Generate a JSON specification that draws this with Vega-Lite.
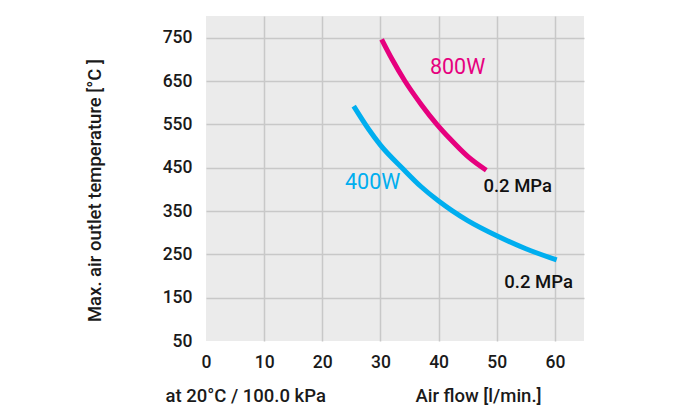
{
  "$schema": "https://vega.github.io/schema/vega-lite/v6.json",
  "width": 378,
  "height": 325,
  "autosize": {"type": "none"},
  "padding": {"left": 206, "top": 16, "right": 96, "bottom": 67},
  "background": "white",
  "config": {
    "view": {"fill": "#ebebeb", "stroke": null},
    "font": "Roboto",
    "axis": {
      "labelFont": "Roboto", "titleFont": "Roboto",
      "labelColor": "#1a1a1a", "titleColor": "#1a1a1a",
      "labelFontSize": 17.5, "labelFontWeight": 500,
      "titleFontSize": 18.5, "titleFontWeight": 500,
      "ticks": false, "tickSize": 0, "domain": false,
      "gridColor": "#c8c8c8", "gridWidth": 1.5
    }
  },
  "layer": [
    {
      "data": {"values": [
        {"flow": 30.2, "temp": 746, "series": "800W"},
        {"flow": 32, "temp": 700, "series": "800W"},
        {"flow": 34.2, "temp": 650, "series": "800W"},
        {"flow": 37, "temp": 596, "series": "800W"},
        {"flow": 39.7, "temp": 550, "series": "800W"},
        {"flow": 42, "temp": 516, "series": "800W"},
        {"flow": 45, "temp": 476, "series": "800W"},
        {"flow": 48.2, "temp": 444, "series": "800W"},
        {"flow": 25.4, "temp": 592, "series": "400W"},
        {"flow": 28, "temp": 538, "series": "400W"},
        {"flow": 30, "temp": 502, "series": "400W"},
        {"flow": 33.9, "temp": 447, "series": "400W"},
        {"flow": 37, "temp": 406, "series": "400W"},
        {"flow": 40, "temp": 373, "series": "400W"},
        {"flow": 42.3, "temp": 351, "series": "400W"},
        {"flow": 45, "temp": 328, "series": "400W"},
        {"flow": 50, "temp": 293, "series": "400W"},
        {"flow": 55, "temp": 263, "series": "400W"},
        {"flow": 60.3, "temp": 237, "series": "400W"}
      ]},
      "mark": {"type": "line", "interpolate": "monotone", "strokeWidth": 5, "strokeCap": "butt"},
      "encoding": {
        "x": {
          "field": "flow", "type": "quantitative",
          "scale": {"domain": [0, 65], "nice": false, "zero": false},
          "axis": {
            "orient": "bottom",
            "values": [0, 10, 20, 30, 40, 50, 60],
            "labelFlush": false, "labelPadding": 12,
            "title": "Air flow [l/min.]",
            "titleX": 272, "titleY": 60, "titleAlign": "center", "titleBaseline": "alphabetic",
            "gridOpacity": {"condition": {"test": "datum.value == 0", "value": 0}, "value": 1}
          }
        },
        "y": {
          "field": "temp", "type": "quantitative",
          "scale": {"domain": [50, 800], "nice": false, "zero": false},
          "axis": {
            "values": [50, 150, 250, 350, 450, 550, 650, 750],
            "labelPadding": 14,
            "title": "Max. air outlet temperature [°C ]",
            "titleAngle": -90, "titleX": -106, "titleY": 174,
            "titleAlign": "center", "titleBaseline": "alphabetic",
            "gridOpacity": {"condition": {"test": "datum.value == 50", "value": 0}, "value": 1}
          }
        },
        "color": {
          "field": "series", "type": "nominal",
          "scale": {"domain": ["800W", "400W", "note"], "range": ["#e6007e", "#00aeef", "#111111"]},
          "legend": null
        }
      }
    },
    {
      "data": {"values": [
        {"flow": 38.5, "temp": 680, "label": "800W", "series": "800W"},
        {"flow": 23.9, "temp": 415, "label": "400W", "series": "400W"}
      ]},
      "mark": {"type": "text", "align": "left", "baseline": "middle", "fontSize": 21.5, "font": "Roboto"},
      "encoding": {
        "x": {
          "field": "flow", "type": "quantitative",
          "axis": {
            "orient": "bottom", "labels": false, "grid": false, "ticks": false, "domain": false,
            "title": "at 20°C / 100.0 kPa",
            "titleX": -41, "titleY": 60, "titleAlign": "left", "titleBaseline": "alphabetic"
          }
        },
        "y": {"field": "temp", "type": "quantitative"},
        "text": {"field": "label"},
        "color": {"field": "series", "type": "nominal", "legend": null}
      }
    },
    {
      "data": {"values": [
        {"flow": 47.7, "temp": 408, "label": "0.2 MPa", "series": "note"},
        {"flow": 51.3, "temp": 186, "label": "0.2 MPa", "series": "note"}
      ]},
      "mark": {"type": "text", "align": "left", "baseline": "middle", "fontSize": 18.5, "fontWeight": 500, "font": "Roboto"},
      "encoding": {
        "x": {"field": "flow", "type": "quantitative", "axis": null},
        "y": {"field": "temp", "type": "quantitative"},
        "text": {"field": "label"},
        "color": {"field": "series", "type": "nominal", "legend": null}
      }
    }
  ],
  "resolve": {"axis": {"x": "independent"}}
}
